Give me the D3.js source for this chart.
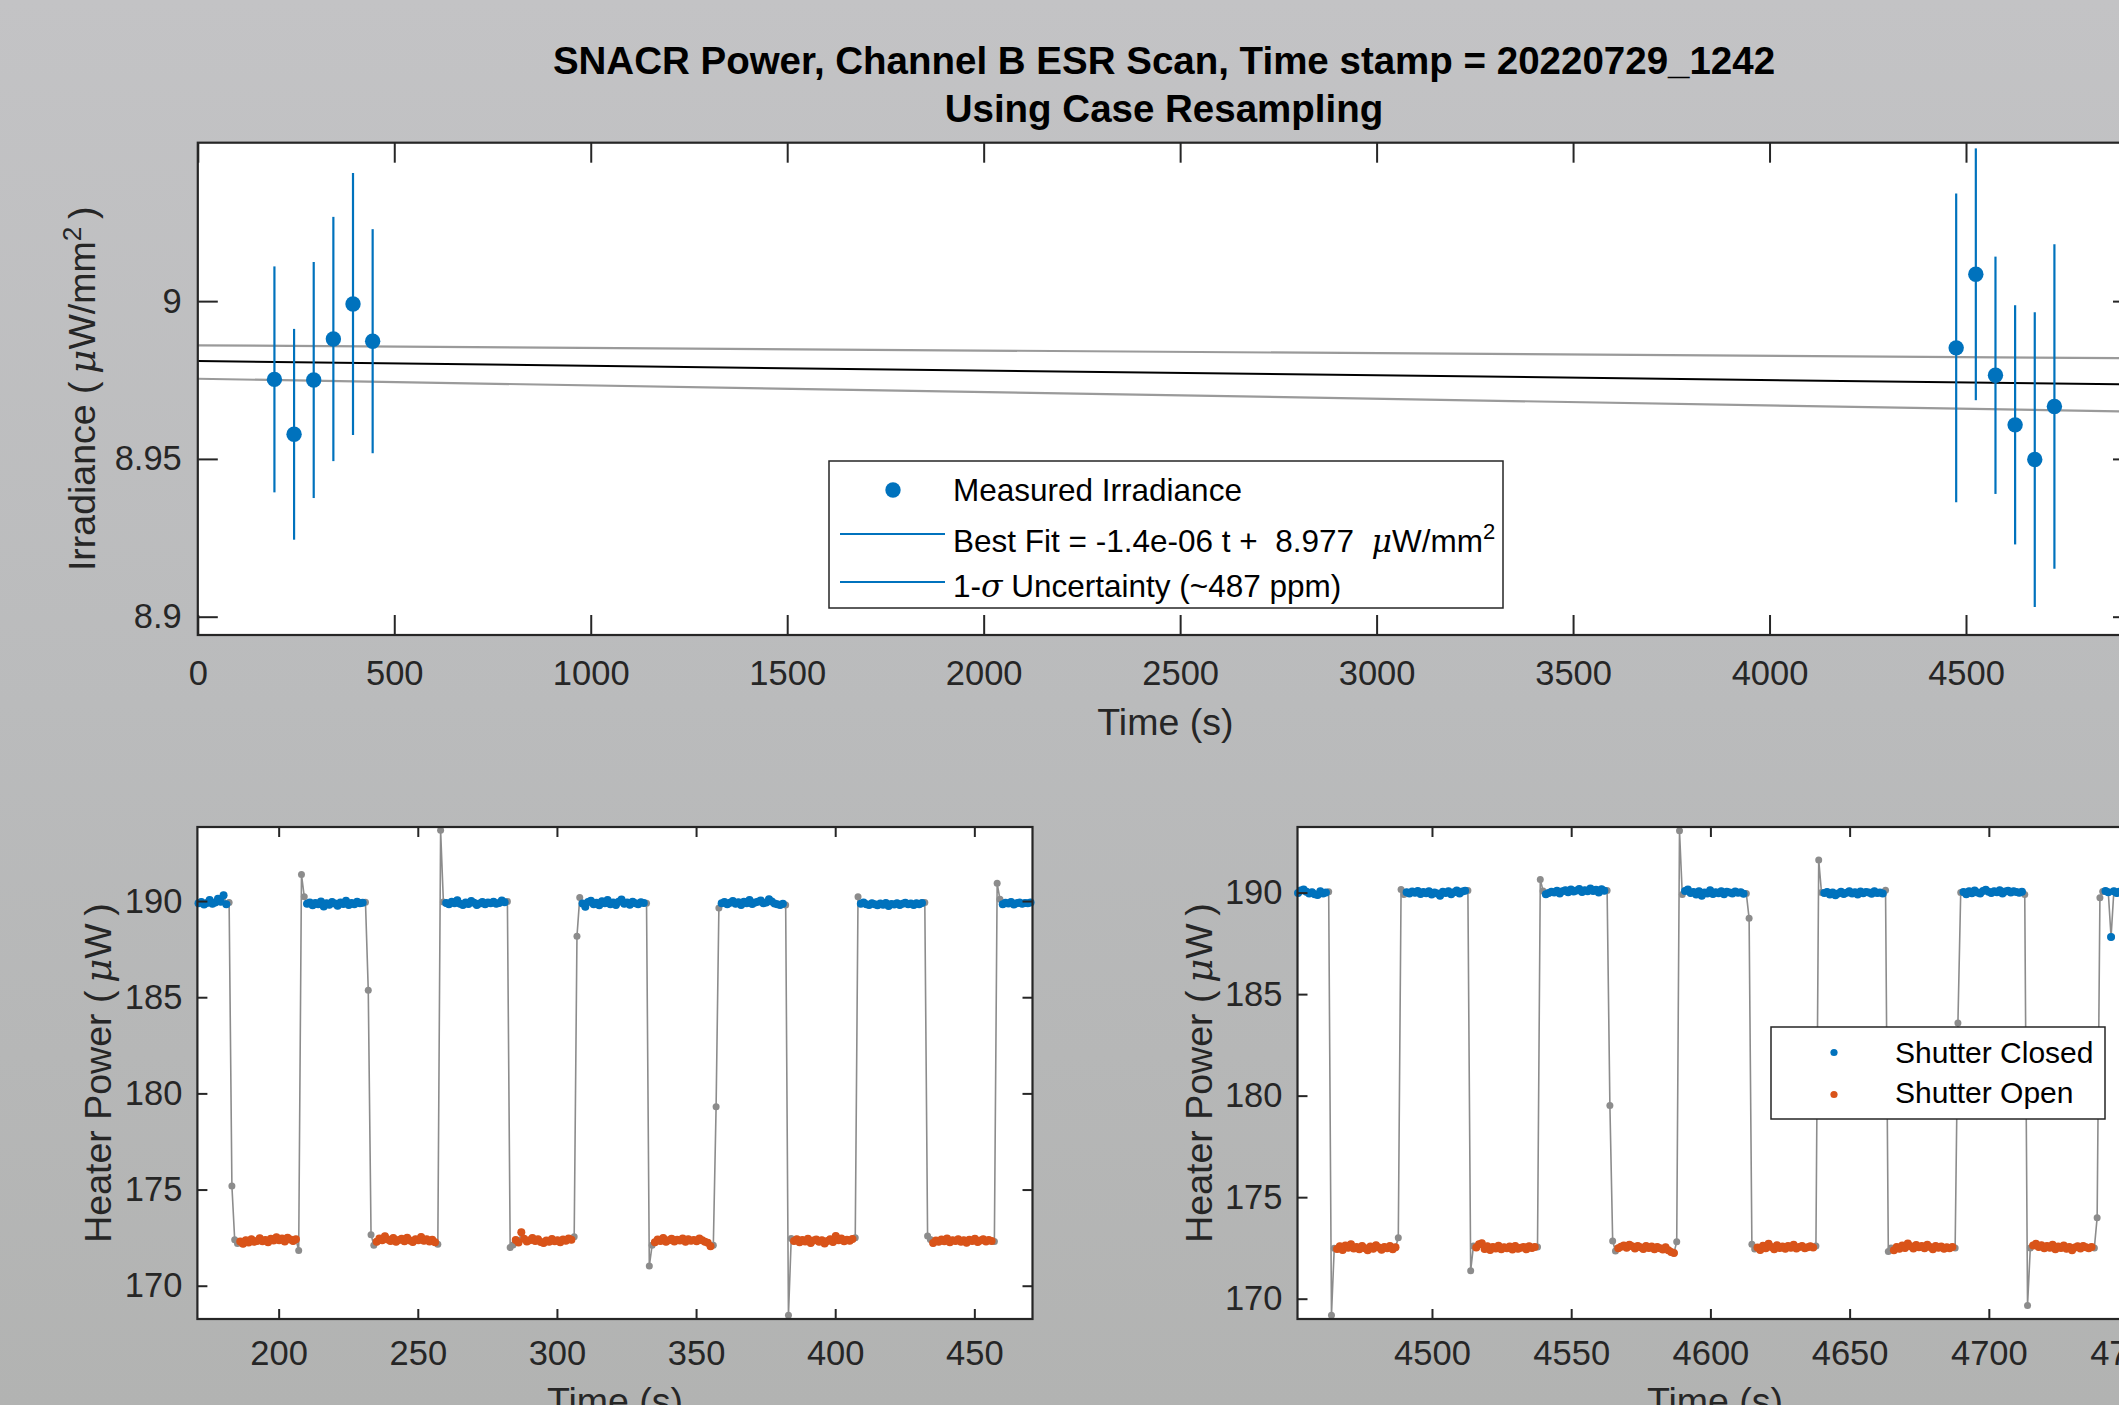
<!DOCTYPE html>
<html>
<head>
<meta charset="utf-8">
<script src="https://cdn.jsdelivr.net/npm/d3@7"></script>
<style>
	body{margin:0;padding:0;overflow:hidden;}
	svg{display:block;font-family:"Liberation Sans",Arial,Helvetica,sans-serif;}
	.TickLabel{font-size:34.5px;fill:#262626;}
	.AxisLabel{font-size:37.5px;fill:#262626;}
	.TitleText{font-size:38.5px;font-weight:bold;fill:#000;}
	.LegendText{font-size:30px;fill:#000;}
	.LegendTextBig{font-size:31.5px;fill:#000;}
</style>
</head>
<body>
<div id="idFigure"></div>
<script>
// ---- top panel : ESR scan irradiance ----
var aIrrTime=[195,245,295,345,395,445,4475,4525,4575,4625,4675,4725];
var aIrrValue=[8.9752,8.9578,8.9750,8.9880,8.9991,8.9873,8.9852,9.0085,8.9765,8.9608,8.9498,8.9666];
var aIrrSigma=[0.0358,0.0334,0.0374,0.0387,0.0415,0.0355,0.0489,0.0399,0.0376,0.0379,0.0467,0.0514];
var aFitTime=[0,4925];
var aFitValue=[8.9810,8.9736];
var aFitUpper=[8.9860,8.9819];
var aFitLower=[8.9754,8.9650];
var aIrrXLim=[0,4925];
var aIrrYLim=[8.8942,9.0502];
var aIrrXTicks=[0,500,1000,1500,2000,2500,3000,3500,4000,4500];
var aIrrYTicks=[8.9,8.95,9];

// ---- bottom panels : heater power, one sample per second ----
var fLeftStart=171.2;
var fRightStart=4451.9;
var fSampleStep=1;

var aLeftPower=[
	189.88,189.95,189.82,189.90,190.05,189.86,189.93,190.12,189.97,190.30,189.84,
	189.92,175.18,172.39,172.20,
	172.30,172.18,172.36,172.25,172.41,172.29,172.33,172.47,172.31,172.38,172.26,172.44,172.35,172.52,172.37,172.45,172.30,172.49,172.40,172.33,172.42,
	171.83,191.38,190.23,
	189.86,189.93,189.78,189.90,189.84,189.98,189.72,189.88,189.81,189.95,189.87,189.76,189.92,189.85,190.01,189.79,189.90,189.83,189.96,189.88,189.91,
	189.94,185.36,172.65,172.10,
	172.28,172.45,172.36,172.57,172.40,172.33,172.48,172.29,172.38,172.44,172.31,172.50,172.35,172.27,172.42,172.37,172.53,172.34,172.41,172.30,172.39,172.26,
	172.15,193.68,189.95,
	189.90,189.83,189.96,189.88,190.04,189.86,189.79,189.93,189.85,190.00,189.91,189.80,189.87,189.95,189.84,189.92,189.89,189.97,189.86,189.90,190.03,189.94,
	189.98,171.99,172.12,
	172.38,172.25,172.78,172.44,172.30,172.36,172.48,172.33,172.41,172.27,172.22,172.35,172.29,172.43,172.31,172.37,172.26,172.40,172.34,172.45,172.39,
	172.55,188.17,190.18,
	189.87,189.70,189.95,190.02,189.84,189.91,189.78,189.99,189.88,190.05,189.83,189.93,189.80,189.96,190.08,189.86,189.92,189.81,189.97,189.89,189.84,189.94,189.90,
	189.88,171.03,172.10,
	172.26,172.40,172.33,172.48,172.29,172.37,172.44,172.30,172.39,172.35,172.46,172.28,172.42,172.34,172.38,172.31,172.45,172.36,172.29,172.24,172.05,
	172.10,179.31,189.64,
	189.88,189.95,189.83,189.91,190.00,189.86,189.94,189.80,189.97,189.89,190.06,189.85,189.92,189.96,190.03,189.88,189.93,190.10,189.98,189.87,189.84,189.79,189.86,
	189.80,168.46,172.45,
	172.32,172.41,172.26,172.38,172.30,172.44,172.22,172.35,172.40,172.28,172.36,172.19,172.33,172.42,172.27,172.58,172.37,172.45,172.31,172.39,172.34,172.43,
	172.50,190.23,
	189.86,189.92,189.84,189.80,189.89,189.83,189.78,189.87,189.81,189.90,189.74,189.85,189.82,189.88,189.79,189.86,189.91,189.83,189.87,189.80,189.89,189.84,189.90,
	189.92,172.58,172.40,
	172.22,172.35,172.28,172.40,172.31,172.46,172.26,172.37,172.33,172.42,172.29,172.36,172.24,172.39,172.32,172.44,172.27,172.35,172.41,172.30,172.38,172.33,
	172.30,190.92,190.10,
	189.84,189.91,189.87,189.95,189.82,189.89,189.93,189.86,189.90,189.88,189.92
];
var aLeftClosed=[[0,10],[39,59],[89,110],[138,160],[188,210],[238,260],[289,299]];
var aLeftOpen=[[15,35],[64,85],[114,134],[164,184],[214,235],[264,285]];

var aRightPower=[
	189.98,190.10,190.15,190.04,189.96,190.02,189.92,189.88,190.06,189.95,190.01,
	190.04,169.18,172.49,
	172.45,172.58,172.40,172.62,172.51,172.68,172.47,172.55,172.43,172.60,172.49,172.38,172.57,172.46,172.63,172.52,172.41,172.55,172.48,172.59,172.44,172.53,
	173.00,190.15,189.90,
	190.02,189.96,190.05,189.99,190.08,189.93,190.03,189.97,190.06,189.90,190.01,189.95,189.84,190.04,189.98,190.07,189.92,190.02,190.10,189.96,190.05,190.09,
	190.10,171.38,172.60,
	172.52,172.68,172.73,172.45,172.58,172.40,172.55,172.47,172.61,172.43,172.53,172.49,172.57,172.42,172.60,172.46,172.51,172.55,172.44,172.58,172.50,172.54,
	172.55,190.65,190.08,
	189.92,189.98,190.04,190.00,190.09,189.95,190.06,190.12,190.02,190.15,190.05,190.10,190.18,190.03,190.11,190.07,190.20,190.08,190.14,190.01,190.16,190.09,
	190.10,179.51,172.84,172.35,
	172.48,172.56,172.62,172.51,172.66,172.58,172.47,172.60,172.53,172.45,172.59,172.50,172.57,172.44,172.55,172.49,172.42,172.53,172.38,172.30,172.25,
	172.80,193.04,189.90,
	190.08,190.15,189.98,190.03,189.90,190.06,189.85,190.01,189.95,190.12,189.93,190.02,189.97,190.07,189.92,190.04,190.00,189.96,190.05,189.99,190.02,189.94,
	189.95,188.73,172.68,172.45,
	172.52,172.40,172.61,172.48,172.70,172.55,172.44,172.63,172.50,172.57,172.46,172.59,172.51,172.66,172.47,172.54,172.60,172.49,172.53,172.58,172.52,
	172.60,191.61,190.00,
	189.98,190.03,189.91,190.00,189.87,189.95,190.04,189.93,189.99,190.06,189.96,190.02,189.90,190.05,189.97,190.03,190.00,189.94,190.06,189.98,190.01,189.96,
	190.12,172.33,172.50,
	172.38,172.55,172.46,172.62,172.50,172.72,172.58,172.47,172.64,172.53,172.60,172.49,172.66,172.55,172.44,172.59,172.51,172.57,172.46,172.53,172.48,172.55,
	172.50,183.58,190.00,
	190.03,189.92,190.06,189.97,190.10,190.01,189.95,190.08,190.14,190.04,189.98,190.07,190.02,190.11,189.96,190.05,190.09,190.00,190.06,190.03,189.99,190.04,
	189.90,169.67,172.50,
	172.62,172.70,172.55,172.63,172.48,172.59,172.51,172.66,172.44,172.57,172.50,172.62,172.46,172.55,172.38,172.52,172.58,172.47,172.60,172.53,172.49,172.55,
	172.50,173.99,189.75,190.05,
	190.08,190.02,187.81,190.06,189.98,190.04,190.01,189.96,190.03,190.00
];
var aRightClosed=[[0,10],[39,60],[89,110],[139,160],[189,210],[239,260],[290,299]];
var aRightOpen=[[14,35],[64,85],[115,135],[165,185],[214,235],[264,285]];

var aLeftXLim=[170.8,470.9];
var aLeftYLim=[168.27,193.85];
var aRightXLim=[4451.7,4751.6];
var aRightYLim=[169.0,193.23];
var aLeftXTicks=[200,250,300,350,400,450];
var aRightXTicks=[4500,4550,4600,4650,4700,4750];
var aPowerYTicks=[170,175,180,185,190];

var sBlue="#0072BD";
var sOrange="#D95319";
var sAxisColor="#262626";

function DrawScanFigure()
{
	var iWidth=2119;
	var iHeight=1405;
	var sContentLoc="#idFigure";

	var myCanvas;

	function Render(){}

	Render.newFigure = function()
	{
		myCanvas=d3.select(sContentLoc).append("svg")
			.attr("width",iWidth)
			.attr("height",iHeight);

		var myGrad=myCanvas.append("defs").append("linearGradient")
			.attr("id","idBackGrad")
			.attr("x1",0).attr("y1",0).attr("x2",0).attr("y2",1);
		myGrad.append("stop").attr("offset","0").attr("stop-color","#c3c3c5");
		myGrad.append("stop").attr("offset","0.5").attr("stop-color","#babbbc");
		myGrad.append("stop").attr("offset","1").attr("stop-color","#b2b3b2");

		myCanvas.append("rect")
			.attr("width",iWidth)
			.attr("height",iHeight)
			.attr("fill","url(#idBackGrad)");

		Render.drawIrradiance();
		Render.drawPower({x0:197.4,x1:1032.5,y0:827,y1:1319},fLeftStart,aLeftPower,aLeftClosed,aLeftOpen,aLeftXLim,aLeftYLim,aLeftXTicks,111,false);
		Render.drawPower({x0:1297.5,x1:2132.5,y0:827,y1:1319},fRightStart,aRightPower,aRightClosed,aRightOpen,aRightXLim,aRightYLim,aRightXTicks,1212,true);
		return Render;
	};

	function AddAxes(myGraphics,oBox,xAxes,yAxes,aXTicks,aYTicks,iTickLen,iXPad,iYPad,fnYFormat)
	{
		var aParts=[];
		aParts.push(myGraphics.append("g").attr("transform","translate(0,"+oBox.y1+")")
			.call(d3.axisBottom(xAxes).tickValues(aXTicks).tickFormat(d3.format("d")).tickSizeInner(-iTickLen).tickSizeOuter(0).tickPadding(iXPad)));
		aParts.push(myGraphics.append("g").attr("transform","translate(0,"+oBox.y0+")")
			.call(d3.axisTop(xAxes).tickValues(aXTicks).tickFormat("").tickSizeInner(-iTickLen).tickSizeOuter(0)));
		aParts.push(myGraphics.append("g").attr("transform","translate("+oBox.x0+",0)")
			.call(d3.axisLeft(yAxes).tickValues(aYTicks).tickFormat(fnYFormat).tickSizeInner(-iTickLen).tickSizeOuter(0).tickPadding(iYPad)));
		aParts.push(myGraphics.append("g").attr("transform","translate("+oBox.x1+",0)")
			.call(d3.axisRight(yAxes).tickValues(aYTicks).tickFormat("").tickSizeInner(-iTickLen).tickSizeOuter(0)));

		aParts.forEach(function(myPart) {
			myPart.attr("font-size",null).attr("font-family",null);
			myPart.select(".domain").remove();
			myPart.selectAll(".tick line").attr("stroke",sAxisColor).attr("stroke-width",2);
			myPart.selectAll(".tick text").attr("class","TickLabel").attr("fill",null);
		});

		myGraphics.append("rect")
			.attr("x",oBox.x0)
			.attr("y",oBox.y0)
			.attr("width",oBox.x1-oBox.x0)
			.attr("height",oBox.y1-oBox.y0)
			.attr("fill","none")
			.attr("stroke",sAxisColor)
			.attr("stroke-width",2.2);
	}

	// text made of pieces : {s, it (italic), sup (superscript)}
	function AddRichText(myText,aPieces,iSupShift)
	{
		var bUp=false;
		aPieces.forEach(function(oPiece) {
			var myPiece=myText.append("tspan").text(oPiece.s);
			if(oPiece.it) myPiece.attr("font-style","italic").attr("font-family","'DejaVu Serif',serif");
			if(oPiece.sup) {
				myPiece.attr("font-size","70%").attr("dy",-iSupShift);
				bUp=true;
			} else if(bUp) {
				myPiece.attr("dy",iSupShift);
				bUp=false;
			}
		});
		return myText;
	}

	Render.drawIrradiance = function()
	{
		var oBox={x0:197.8,x1:2133,y0:142.7,y1:635};
		var myGraphics=myCanvas.append("g").attr("class","IrradianceAxes");

		myGraphics.append("rect")
			.attr("x",oBox.x0).attr("y",oBox.y0)
			.attr("width",oBox.x1-oBox.x0).attr("height",oBox.y1-oBox.y0)
			.attr("fill","#fff");

		var xAxes=d3.scaleLinear().domain(aIrrXLim).range([oBox.x0,oBox.x1]);
		var yAxes=d3.scaleLinear().domain(aIrrYLim).range([oBox.y1,oBox.y0]);

		var aFit=aFitTime.map(function(t,i) { return {t:t,v:aFitValue[i],u:aFitUpper[i],l:aFitLower[i]}; });

		var myLine=d3.line().x(function(d) { return xAxes(d.t); });

		myGraphics.append("path").datum(aFit)
			.attr("d",myLine.y(function(d) { return yAxes(d.u); }))
			.attr("fill","none").attr("stroke","#9a9a9a").attr("stroke-width",2.2);
		myGraphics.append("path").datum(aFit)
			.attr("d",myLine.y(function(d) { return yAxes(d.l); }))
			.attr("fill","none").attr("stroke","#9a9a9a").attr("stroke-width",2.2);
		myGraphics.append("path").datum(aFit)
			.attr("d",myLine.y(function(d) { return yAxes(d.v); }))
			.attr("fill","none").attr("stroke","#000").attr("stroke-width",2);

		var aPoints=aIrrTime.map(function(t,i) { return {t:t,v:aIrrValue[i],e:aIrrSigma[i]}; });

		myGraphics.selectAll(".IrrErrBars")
			.data(aPoints)
			.enter().append("line")
				.attr("class","IrrErrBars")
				.attr("x1",function(d) { return xAxes(d.t); })
				.attr("x2",function(d) { return xAxes(d.t); })
				.attr("y1",function(d) { return yAxes(d.v-d.e); })
				.attr("y2",function(d) { return yAxes(d.v+d.e); })
				.attr("stroke",sBlue)
				.attr("stroke-width",2.2);

		myGraphics.selectAll(".IrrDots")
			.data(aPoints)
			.enter().append("circle")
				.attr("class","IrrDots")
				.attr("cx",function(d) { return xAxes(d.t); })
				.attr("cy",function(d) { return yAxes(d.v); })
				.attr("r",7.7)
				.attr("fill",sBlue);

		AddAxes(myGraphics,oBox,xAxes,yAxes,aIrrXTicks,aIrrYTicks,20,26,16,function(d) { return String(+d.toFixed(2)); });

		// titles
		myGraphics.append("text").attr("class","TitleText")
			.attr("x",1164).attr("y",74).attr("text-anchor","middle")
			.text("SNACR Power, Channel B ESR Scan, Time stamp = 20220729_1242");
		myGraphics.append("text").attr("class","TitleText")
			.attr("x",1164).attr("y",122).attr("text-anchor","middle")
			.text("Using Case Resampling");

		myGraphics.append("text").attr("class","AxisLabel")
			.attr("x",(oBox.x0+oBox.x1)/2).attr("y",735).attr("text-anchor","middle")
			.text("Time (s)");

		AddRichText(myGraphics.append("text").attr("class","AxisLabel")
			.attr("transform","translate(95,"+((oBox.y0+oBox.y1)/2)+") rotate(-90)")
			.attr("text-anchor","middle"),
			[{s:"Irradiance (\u2009"},{s:"\u03bc",it:true},{s:"W/mm"},{s:"2",sup:true},{s:"\u2009)"}],14);

		// legend
		var myLegend=myGraphics.append("g").attr("class","IrrLegend");
		myLegend.append("rect")
			.attr("x",829).attr("y",461).attr("width",674).attr("height",147)
			.attr("fill","#fff").attr("stroke",sAxisColor).attr("stroke-width",1.5);
		myLegend.append("circle").attr("cx",893).attr("cy",490).attr("r",7.7).attr("fill",sBlue);
		myLegend.append("text").attr("class","LegendTextBig").attr("x",953).attr("y",501).text("Measured Irradiance");
		myLegend.append("line").attr("x1",840).attr("x2",945).attr("y1",534).attr("y2",534)
			.attr("stroke",sBlue).attr("stroke-width",1.8);
		AddRichText(myLegend.append("text").attr("class","LegendTextBig").attr("x",953).attr("y",552).style("white-space","pre"),
			[{s:"Best Fit = -1.4e-06 t +  8.977  "},{s:"\u03bc",it:true},{s:"W/mm"},{s:"2",sup:true}],13);
		myLegend.append("line").attr("x1",840).attr("x2",945).attr("y1",582).attr("y2",582)
			.attr("stroke",sBlue).attr("stroke-width",1.8);
		AddRichText(myLegend.append("text").attr("class","LegendTextBig").attr("x",953).attr("y",597),
			[{s:"1-"},{s:"\u03c3",it:true},{s:" Uncertainty (~487 ppm)"}],0);

		return Render;
	};

	Render.drawPower = function(oBox,fStart,aPower,aClosed,aOpen,aXLim,aYLim,aXTicks,iLabelX,bLegend)
	{
		var myGraphics=myCanvas.append("g").attr("class","PowerAxes");

		myGraphics.append("rect")
			.attr("x",oBox.x0).attr("y",oBox.y0)
			.attr("width",oBox.x1-oBox.x0).attr("height",oBox.y1-oBox.y0)
			.attr("fill","#fff");

		var xAxes=d3.scaleLinear().domain(aXLim).range([oBox.x0,oBox.x1]);
		var yAxes=d3.scaleLinear().domain(aYLim).range([oBox.y1,oBox.y0]);

		var aSamples=aPower.map(function(v,i) { return {t:fStart+i*fSampleStep,v:v}; });

		function PickRanges(aRanges)
		{
			var aOut=[];
			aRanges.forEach(function(aRange) {
				for(var i=aRange[0];i<=aRange[1];i++) aOut.push(aSamples[i]);
			});
			return aOut;
		}

		myGraphics.append("path").datum(aSamples)
			.attr("d",d3.line().x(function(d) { return xAxes(d.t); }).y(function(d) { return yAxes(d.v); }))
			.attr("fill","none").attr("stroke","#8c8c8c").attr("stroke-width",1.6);

		myGraphics.selectAll(".PowerAll")
			.data(aSamples)
			.enter().append("circle")
				.attr("class","PowerAll")
				.attr("cx",function(d) { return xAxes(d.t); })
				.attr("cy",function(d) { return yAxes(d.v); })
				.attr("r",3.5)
				.attr("fill","#8c8c8c");

		[[aClosed,sBlue],[aOpen,sOrange]].forEach(function(aSet) {
			myGraphics.selectAll(".PowerState"+aSet[1].substring(1))
				.data(PickRanges(aSet[0]))
				.enter().append("circle")
					.attr("class","PowerState"+aSet[1].substring(1))
					.attr("cx",function(d) { return xAxes(d.t); })
					.attr("cy",function(d) { return yAxes(d.v); })
					.attr("r",4)
					.attr("fill",aSet[1]);
		});

		AddAxes(myGraphics,oBox,xAxes,yAxes,aXTicks,aPowerYTicks,10,22,15,d3.format("d"));

		myGraphics.append("text").attr("class","AxisLabel")
			.attr("x",(oBox.x0+oBox.x1)/2).attr("y",1414).attr("text-anchor","middle")
			.text("Time (s)");

		AddRichText(myGraphics.append("text").attr("class","AxisLabel")
			.attr("transform","translate("+iLabelX+","+((oBox.y0+oBox.y1)/2)+") rotate(-90)")
			.attr("text-anchor","middle"),
			[{s:"Heater Power (\u2009"},{s:"\u03bc",it:true},{s:"W\u2009)"}],0);

		if(bLegend)
		{
			var myLegend=myGraphics.append("g").attr("class","PowerLegend");
			myLegend.append("rect")
				.attr("x",1771).attr("y",1027).attr("width",334).attr("height",92)
				.attr("fill","#fff").attr("stroke",sAxisColor).attr("stroke-width",1.5);
			myLegend.append("circle").attr("cx",1834).attr("cy",1052.5).attr("r",3.6).attr("fill",sBlue);
			myLegend.append("text").attr("class","LegendText").attr("x",1895).attr("y",1063).text("Shutter Closed");
			myLegend.append("circle").attr("cx",1834).attr("cy",1094.5).attr("r",3.6).attr("fill",sOrange);
			myLegend.append("text").attr("class","LegendText").attr("x",1895).attr("y",1103).text("Shutter Open");
		}

		return Render;
	};

	return Render;
}

DrawScanFigure().newFigure();
</script>
</body>
</html>
